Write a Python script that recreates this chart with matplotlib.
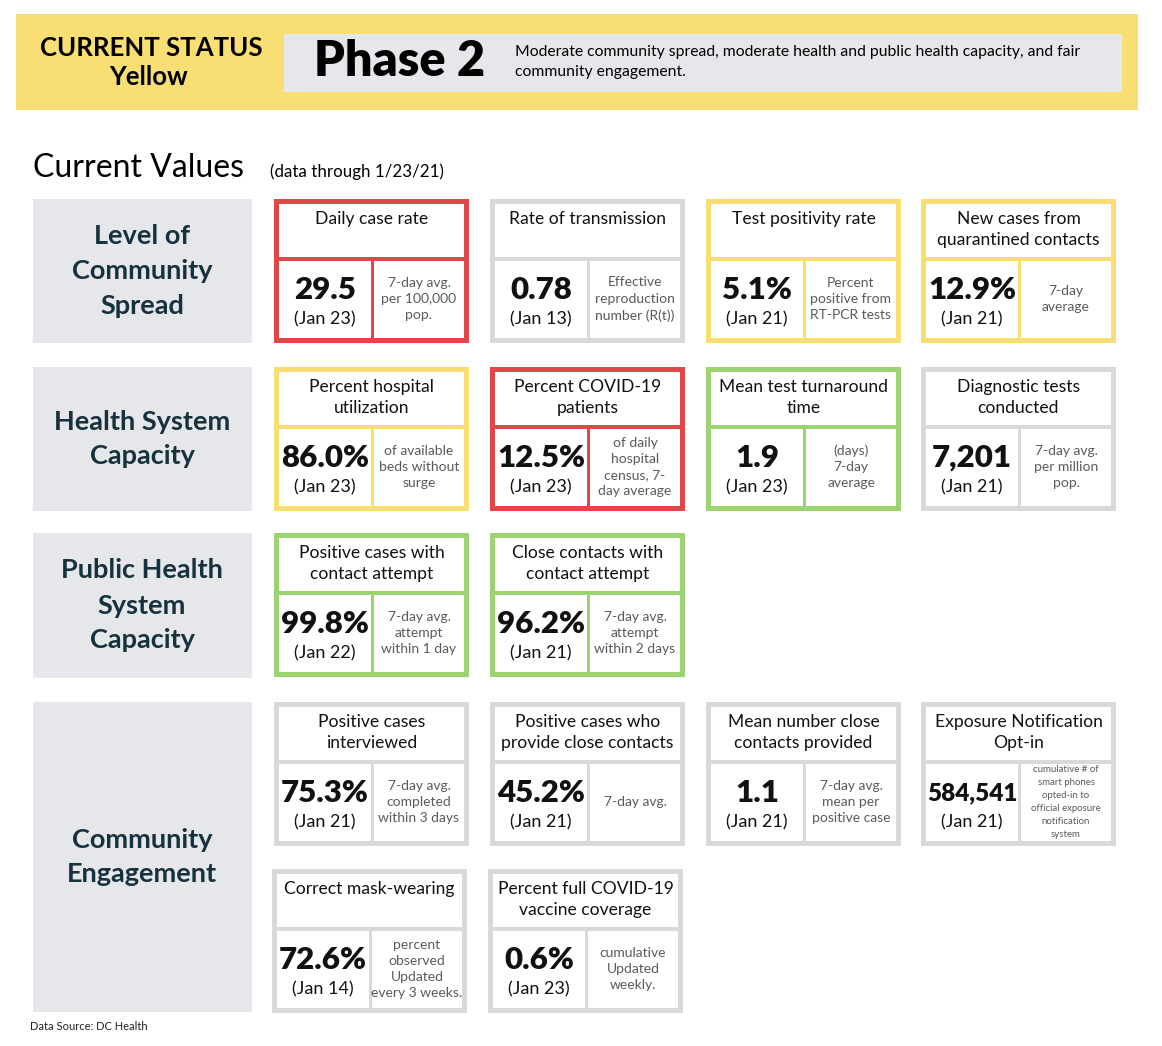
import matplotlib
matplotlib.use("Agg")
import matplotlib.pyplot as plt
from matplotlib.patches import Rectangle

plt.rcParams['font.family'] = ['Lato', 'DejaVu Sans']

# ---- data ----
status_name = "Yellow"
phase = "Phase 2"
phase_text = ("Moderate community spread, moderate health and public health capacity, and fair\n"
              "community engagement.")
data_through = "(data through 1/23/21)"

categories = ["Level of\nCommunity\nSpread",
              "Health System\nCapacity",
              "Public Health\nSystem\nCapacity",
              "Community\nEngagement"]

titles = ["Daily case rate", "Rate of transmission", "Test positivity rate",
          "New cases from\nquarantined contacts",
          "Percent hospital\nutilization", "Percent COVID-19\npatients",
          "Mean test turnaround\ntime", "Diagnostic tests\nconducted",
          "Positive cases with\ncontact attempt", "Close contacts with\ncontact attempt",
          "Positive cases\ninterviewed", "Positive cases who\nprovide close contacts",
          "Mean number close\ncontacts provided", "Exposure Notification\nOpt-in",
          "Correct mask-wearing", "Percent full COVID-19\nvaccine coverage"]
values = ["29.5", "0.78", "5.1%", "12.9%",
          "86.0%", "12.5%", "1.9", "7,201",
          "99.8%", "96.2%",
          "75.3%", "45.2%", "1.1", "584,541",
          "72.6%", "0.6%"]
dates = ["(Jan 23)", "(Jan 13)", "(Jan 21)", "(Jan 21)",
         "(Jan 23)", "(Jan 23)", "(Jan 23)", "(Jan 21)",
         "(Jan 22)", "(Jan 21)",
         "(Jan 21)", "(Jan 21)", "(Jan 21)", "(Jan 21)",
         "(Jan 14)", "(Jan 23)"]
notes = ["7-day avg.\nper 100,000\npop.", "Effective\nreproduction\nnumber (R(t))",
         "Percent\npositive from\nRT-PCR tests", "7-day\naverage",
         "of available\nbeds without\nsurge", "of daily\nhospital\ncensus, 7-\nday average",
         "(days)\n7-day\naverage", "7-day avg.\nper million\npop.",
         "7-day avg.\nattempt\nwithin 1 day", "7-day avg.\nattempt\nwithin 2 days",
         "7-day avg.\ncompleted\nwithin 3 days", "7-day avg.",
         "7-day avg.\nmean per\npositive case",
         "cumulative # of\nsmart phones\nopted-in to\nofficial exposure\nnotification\nsystem",
         "percent\nobserved\nUpdated\nevery 3 weeks.", "cumulative\nUpdated\nweekly."]
status = ["red", "gray", "yellow", "yellow",
          "yellow", "red", "green", "gray",
          "green", "green",
          "gray", "gray", "gray", "gray",
          "gray", "gray"]
# which grid row / column each card sits in
card_row = [0, 0, 0, 0, 1, 1, 1, 1, 2, 2, 3, 3, 3, 3, 4, 4]
card_col = [0, 1, 2, 3, 0, 1, 2, 3, 0, 1, 0, 1, 2, 3, 0, 1]

# ---- styles / layout ----
colors = {"red": "#E04848", "gray": "#D9D9D9", "yellow": "#F9DE74", "green": "#9AD36F"}
banner_yellow = "#F9DE74"
panel_gray = "#E6E7EA"
navy = "#17323F"

W, H = 1162, 1046
fig = plt.figure(figsize=(W / 100, H / 100), dpi=100)
ax = fig.add_axes([0, 0, 1, 1])
ax.set_xlim(0, W)
ax.set_ylim(H, 0)
ax.axis('off')

# banner
ax.add_patch(Rectangle((16, 14), 1122, 96, color=banner_yellow, lw=0))
ax.add_patch(Rectangle((284, 34), 838, 58, color=panel_gray, lw=0))
ax.text(151, 48, "CURRENT STATUS", fontsize=18.5, fontweight='bold', ha='center', va='center')
ax.text(148, 77, status_name, fontsize=18.5, fontweight='bold', ha='center', va='center')
ax.text(400, 62, phase, fontsize=35, fontweight='heavy', ha='center', va='center')
ax.text(515, 62, phase_text, fontsize=11.3, ha='left', va='center', linespacing=1.5)

ax.text(33, 168, "Current Values", fontsize=23, ha='left', va='center')
ax.text(270, 172, data_through, fontsize=12.2, ha='left', va='center')

# category panels
cat_y = [(199, 343), (367, 511), (533, 678), (702, 1012)]
for (y0, y1), name in zip(cat_y, categories):
    ax.add_patch(Rectangle((33, y0), 219, y1 - y0, color=panel_gray, lw=0))
    ax.text(142, (y0 + y1) / 2, name, fontsize=19.5, fontweight='bold', color=navy,
            ha='center', va='center', linespacing=1.55)

col_x = [274, 490, 706, 921]
row_y = [199, 367, 533, 702, 869]
cw, ch = 195, 144

for i in range(len(titles)):
    x = col_x[card_col[i]] - (2 if card_row[i] == 4 else 0)
    y = row_y[card_row[i]]
    c = colors[status[i]]
    ax.add_patch(Rectangle((x, y), cw, ch, color=c, lw=0))
    ax.add_patch(Rectangle((x + 5, y + 5), cw - 10, 53, color='white', lw=0))
    ax.add_patch(Rectangle((x + 5, y + 62), 92, ch - 67, color='white', lw=0))
    ax.add_patch(Rectangle((x + 100, y + 62), cw - 105, ch - 67, color='white', lw=0))

    nlines = titles[i].count('\n') + 1
    ty = y + 20 if nlines == 1 else y + 30.5
    ax.text(x + cw / 2, ty, titles[i], fontsize=12.6, ha='center', va='center',
            color='#111111', linespacing=1.4)
    vsize = 22.5 if len(values[i]) < 7 else 17.5
    ax.text(x + 51, y + 91, values[i], fontsize=vsize, fontweight='heavy',
            ha='center', va='center', color='#111111')
    ax.text(x + 51, y + 120, dates[i], fontsize=13, ha='center', va='center',
            color='#111111')
    small = notes[i].count('\n') >= 5
    ax.text(x + 145, y + 100, notes[i], fontsize=6.9 if small else 10,
            ha='center', va='center', color='#5a5a5a',
            linespacing=1.55 if small else 1.42)

ax.text(30, 1027, "Data Source: DC Health", fontsize=8, ha='left', va='center',
        color='#222222')

fig.savefig("out.png", dpi=100)
